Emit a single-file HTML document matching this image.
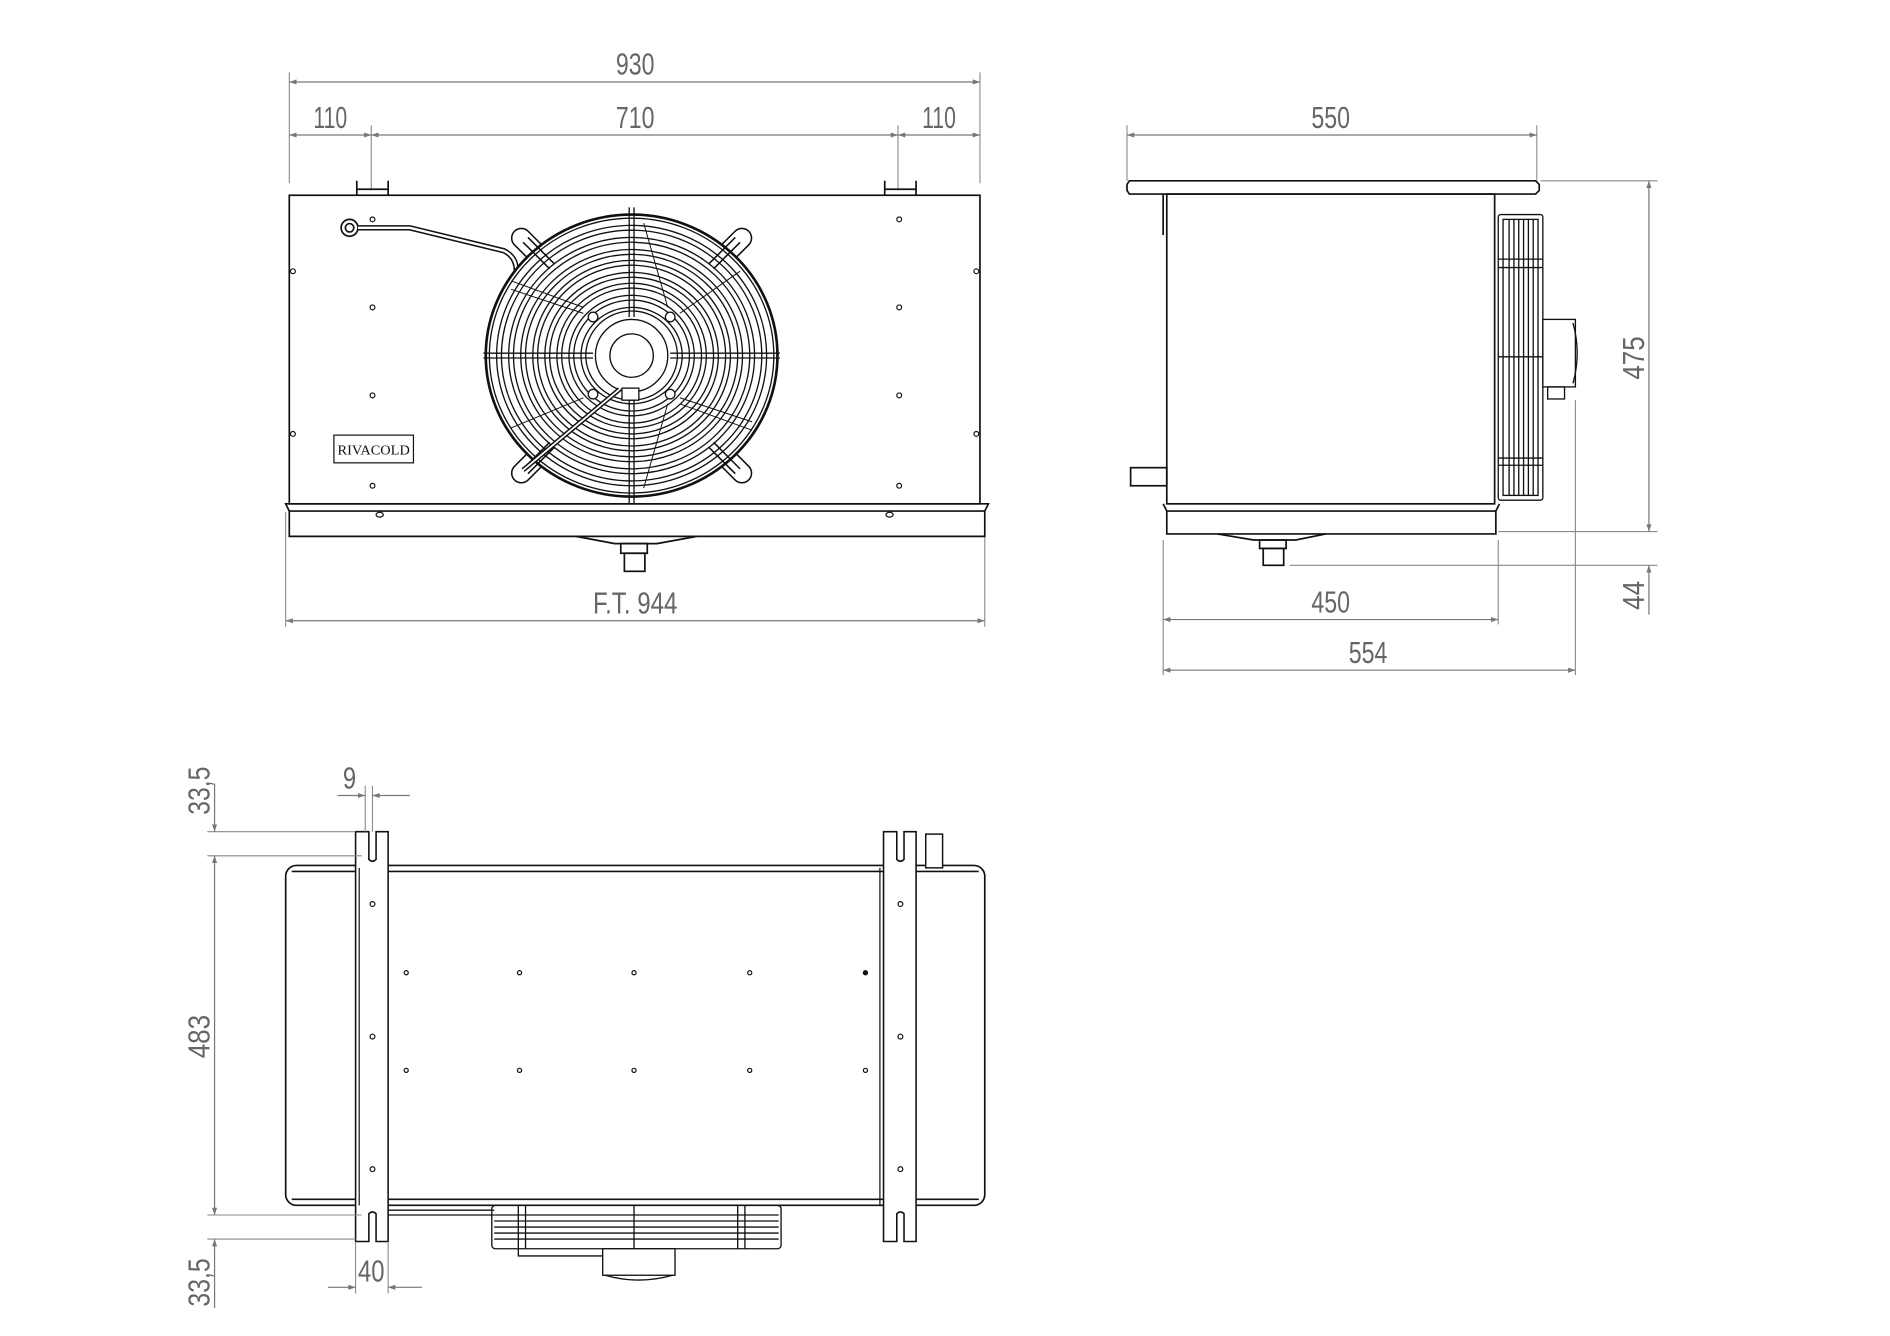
<!DOCTYPE html>
<html><head><meta charset="utf-8"><style>html,body{margin:0;padding:0;background:#fff}svg{display:block}</style></head>
<body>
<svg width="1890" height="1336" viewBox="0 0 1568 1108.4" xmlns="http://www.w3.org/2000/svg">
<defs>
<marker id="a" viewBox="0 0 10 10" refX="10" refY="5" markerWidth="18" markerHeight="6" markerUnits="userSpaceOnUse" orient="auto-start-reverse"><path d="M0,1.5 L10,5 L0,8.5 Z" fill="#777"/></marker>
</defs>
<style>
.d{stroke:#777;stroke-width:1;fill:none}
.e{stroke:#888;stroke-width:0.9;fill:none}
.k{stroke:#111;stroke-width:1.4;fill:none}
.t{font-family:"Liberation Sans Narrow","Liberation Sans",sans-serif;font-size:25px;fill:#666;text-anchor:middle}
</style>

<!-- ===== FRONT VIEW dims ===== -->
<line class="e" x1="240" y1="60" x2="240" y2="152"/>
<line class="e" x1="813" y1="60" x2="813" y2="152"/>
<line class="d" x1="240" y1="68" x2="813" y2="68" marker-start="url(#a)" marker-end="url(#a)"/>
<text class="t" x="527" y="62" textLength="32" lengthAdjust="spacingAndGlyphs">930</text>
<line class="e" x1="308" y1="104" x2="308" y2="158"/>
<line class="e" x1="745" y1="104" x2="745" y2="158"/>
<line class="d" x1="240" y1="112" x2="308" y2="112" marker-start="url(#a)" marker-end="url(#a)"/>
<line class="d" x1="308" y1="112" x2="745" y2="112" marker-start="url(#a)" marker-end="url(#a)"/>
<line class="d" x1="745" y1="112" x2="813" y2="112" marker-start="url(#a)" marker-end="url(#a)"/>
<text class="t" x="274" y="106" textLength="28" lengthAdjust="spacingAndGlyphs">110</text>
<text class="t" x="527" y="106" textLength="32" lengthAdjust="spacingAndGlyphs">710</text>
<text class="t" x="779" y="106" textLength="28" lengthAdjust="spacingAndGlyphs">110</text>
<line class="e" x1="237" y1="425" x2="237" y2="520"/>
<line class="e" x1="817" y1="425" x2="817" y2="520"/>
<line class="d" x1="237" y1="515" x2="817" y2="515" marker-start="url(#a)" marker-end="url(#a)"/>
<text class="t" x="527" y="509" textLength="70" lengthAdjust="spacingAndGlyphs">F.T. 944</text>

<!-- front body -->
<path class="k" d="M296,162 V150 M322,162 V150 M296,157 H322 M734,162 V150 M760,162 V150 M734,157 H760"/>
<rect class="k" x="240" y="162" width="573" height="256"/>
<path class="k" d="M237,418 L240,424 V445 H817 V424 L820,418 Z"/>
<line class="k" x1="240" y1="424" x2="817" y2="424"/>
<path class="k" d="M478,445 L510,451 H545 L578,445"/>
<rect class="k" x="515" y="451" width="22" height="8"/>
<rect class="k" x="518" y="459" width="17" height="15"/>
<g fill="#fff" stroke="#111" stroke-width="1">
<circle cx="309" cy="182" r="2"/><circle cx="309" cy="255" r="2"/><circle cx="309" cy="328" r="2"/><circle cx="309" cy="403" r="2"/>
<circle cx="746" cy="182" r="2"/><circle cx="746" cy="255" r="2"/><circle cx="746" cy="328" r="2"/><circle cx="746" cy="403" r="2"/>
<circle cx="243" cy="225" r="2"/><circle cx="243" cy="360" r="2"/><circle cx="810" cy="225" r="2"/><circle cx="810" cy="360" r="2"/>
<ellipse cx="315" cy="427" rx="3" ry="2"/><ellipse cx="738" cy="427" rx="3" ry="2"/>
</g>
<rect x="277" y="361" width="66" height="23" fill="#fff" stroke="#111" stroke-width="1"/>
<text x="310" y="377" font-family="Liberation Serif,serif" font-size="11" text-anchor="middle" fill="#111" textLength="60" lengthAdjust="spacingAndGlyphs">RIVACOLD</text>
<!-- pipe -->
<circle cx="290" cy="189" r="7" class="k"/><circle cx="290" cy="189" r="3.5" class="k"/>
<path d="M297,189 H340 L418,208 Q430,214 428,228" stroke="#111" stroke-width="4.5" fill="none"/>
<path d="M297,189 H340 L418,208 Q430,214 428,228" stroke="#fff" stroke-width="2" fill="none"/>
<!-- fan -->
<g stroke="#111" fill="none" stroke-width="1.1">
<g transform="translate(524,295)">
<g fill="#fff" stroke-width="1.3">
<rect x="-8" y="-20" width="16" height="36" rx="8" transform="translate(-83,-89) rotate(-45)"/>
<rect x="-8" y="-20" width="16" height="36" rx="8" transform="translate(83,-89) rotate(45)"/>
<rect x="-8" y="-16" width="16" height="36" rx="8" transform="translate(-83,89) rotate(45)"/>
<rect x="-8" y="-16" width="16" height="36" rx="8" transform="translate(83,89) rotate(-45)"/>
</g>
<ellipse rx="121" ry="117" stroke-width="2.2" fill="#fff"/>
<ellipse rx="118" ry="114"/>
<ellipse rx="112" ry="108"/><ellipse rx="108" ry="104"/><ellipse rx="102" ry="98"/><ellipse rx="98" ry="94"/><ellipse rx="92" ry="88"/><ellipse rx="88" ry="84"/><ellipse rx="82" ry="79"/><ellipse rx="78" ry="75"/>
<ellipse rx="72" ry="69"/><ellipse rx="68" ry="65"/><ellipse rx="62" ry="60"/><ellipse rx="58" ry="56"/><ellipse rx="52" ry="50"/><ellipse rx="48" ry="46"/><ellipse rx="42" ry="40"/><ellipse rx="38" ry="37"/>
<path d="M-90,-94 L-68,-72 M-86,-98 L-64,-76 M90,-94 L68,-72 M86,-98 L64,-76 M-90,94 L-68,72 M-86,98 L-64,76 M90,94 L68,72 M86,98 L64,76" stroke-width="1.3"/>
<circle r="30" fill="#fff"/><circle r="18"/>
<path d="M-2,-123 V-32 M2,-123 V-32 M-2,32 V123 M2,32 V123 M-123,-2 H-32 M-123,2 H-32 M32,-2 H123 M32,2 H123"/>
<path d="M-100,-55 L-40,-35 M-100,-62 L-40,-40 M100,55 L40,35 M100,62 L40,40 M-100,60 L-40,35 M10,-110 L30,-40 M10,110 L30,40 M90,-70 L40,-35" stroke-width="0.8"/>
<circle cx="-32" cy="-32" r="4" fill="#fff"/><circle cx="32" cy="-32" r="4" fill="#fff"/><circle cx="-32" cy="32" r="4" fill="#fff"/><circle cx="32" cy="32" r="4" fill="#fff"/>
<rect x="-8" y="27" width="14" height="10" fill="#fff"/>
<path d="M-10,28 L-90,95" stroke-width="4"/><path d="M-10,28 L-90,95" stroke="#fff" stroke-width="1.5"/>
</g>
</g>

<!-- ===== SIDE VIEW ===== -->
<line class="e" x1="935" y1="104" x2="935" y2="150"/>
<line class="e" x1="1275" y1="104" x2="1275" y2="150"/>
<line class="d" x1="935" y1="112" x2="1275" y2="112" marker-start="url(#a)" marker-end="url(#a)"/>
<text class="t" x="1104" y="106" textLength="32" lengthAdjust="spacingAndGlyphs">550</text>
<path class="k" d="M937,150 H1274 L1277,153 V158 L1274,161 H937 L935,158 V153 Z"/>
<rect class="k" x="968" y="161" width="272" height="257"/>
<line class="k" x1="965" y1="161" x2="965" y2="195"/>
<path class="k" d="M965,418 L968,424 V443 H1241 V424 L1244,418"/>
<line class="k" x1="968" y1="424" x2="1241" y2="424"/>
<rect class="k" x="938" y="388" width="30" height="15"/>
<path class="k" d="M1010,443 L1040,448 H1075 L1100,443"/>
<rect class="k" x="1045" y="448" width="22" height="7"/>
<rect class="k" x="1048" y="455" width="17" height="14"/>
<!-- side fan guard -->
<g stroke="#111" fill="none" stroke-width="1.1">
<rect x="1243" y="178" width="37" height="237" rx="2"/>
<rect x="1247" y="182" width="29" height="229"/>
<path d="M1252,182 V411 M1256,182 V411 M1260,182 V411 M1264,182 V411 M1268,182 V411 M1272,182 V411"/>
<path d="M1243,215 H1280 M1243,222 H1280 M1243,296 H1280 M1243,380 H1280 M1243,386 H1280"/>
<rect x="1280" y="265" width="27" height="56" fill="#fff"/>
<path d="M1305,268 Q1312,293 1305,318"/>
<rect x="1284" y="321" width="14" height="10"/>
</g>
<!-- side dims -->
<line class="e" x1="1278" y1="150" x2="1375" y2="150"/>
<line class="e" x1="1243" y1="441" x2="1375" y2="441"/>
<line class="e" x1="1070" y1="469" x2="1375" y2="469"/>
<line class="d" x1="1368" y1="150" x2="1368" y2="441" marker-start="url(#a)" marker-end="url(#a)"/>
<line class="d" x1="1368" y1="510" x2="1368" y2="469" marker-end="url(#a)"/>
<text class="t" transform="translate(1364,297) rotate(-90)" textLength="36" lengthAdjust="spacingAndGlyphs">475</text>
<text class="t" transform="translate(1364,494) rotate(-90)" textLength="24" lengthAdjust="spacingAndGlyphs">44</text>
<line class="e" x1="965" y1="448" x2="965" y2="560"/>
<line class="e" x1="1243" y1="448" x2="1243" y2="518"/>
<line class="e" x1="1307" y1="332" x2="1307" y2="560"/>
<line class="d" x1="965" y1="514" x2="1243" y2="514" marker-start="url(#a)" marker-end="url(#a)"/>
<line class="d" x1="965" y1="556" x2="1307" y2="556" marker-start="url(#a)" marker-end="url(#a)"/>
<text class="t" x="1104" y="508" textLength="32" lengthAdjust="spacingAndGlyphs">450</text>
<text class="t" x="1135" y="550" textLength="32" lengthAdjust="spacingAndGlyphs">554</text>

<!-- ===== BOTTOM VIEW ===== -->
<rect x="237" y="718" width="580" height="282" rx="9" fill="none" stroke="#111" stroke-width="1.4"/>
<line class="k" x1="242" y1="723" x2="812" y2="723"/>
<line class="k" x1="242" y1="995" x2="812" y2="995"/>
<rect x="768" y="692" width="14" height="28" fill="#fff" stroke="#111" stroke-width="1.2"/>
<g stroke="#111" stroke-width="1.3" fill="#fff">
<path d="M295,690 H306 V713 Q309,716 312,713 V690 H322 V1030 H312 V1007 Q309,1004 306,1007 V1030 H295 Z"/>
<path d="M733,690 H744 V713 Q747,716 750,713 V690 H760 V1030 H750 V1007 Q747,1004 744,1007 V1030 H733 Z"/>
</g>
<g stroke="#111" stroke-width="1" fill="none">
<line x1="298" y1="720" x2="298" y2="1000"/><line x1="730" y1="720" x2="730" y2="1000"/>
<circle cx="309" cy="750" r="2"/><circle cx="309" cy="860" r="2"/><circle cx="309" cy="970" r="2"/>
<circle cx="747" cy="750" r="2"/><circle cx="747" cy="860" r="2"/><circle cx="747" cy="970" r="2"/>
<circle cx="337" cy="807" r="1.7"/><circle cx="431" cy="807" r="1.7"/><circle cx="526" cy="807" r="1.7"/><circle cx="622" cy="807" r="1.7"/><circle cx="718" cy="807" r="1.7" fill="#111"/>
<circle cx="337" cy="888" r="1.7"/><circle cx="431" cy="888" r="1.7"/><circle cx="526" cy="888" r="1.7"/><circle cx="622" cy="888" r="1.7"/><circle cx="718" cy="888" r="1.7"/>
</g>
<!-- bottom fan -->
<g stroke="#111" fill="none" stroke-width="1.1">
<path d="M322,1004 H410 M322,1008 H410"/>
<rect x="408" y="1000" width="240" height="36" rx="3"/>
<path d="M410,1008 H646 M410,1013 H646 M410,1018 H646 M410,1023 H646 M410,1028 H646"/>
<path d="M430,1000 V1036 M526,1000 V1036 M612,1000 V1036 M436,1000 V1036 M618,1000 V1036"/>
<path d="M430,1036 V1042 H500"/>
<rect x="500" y="1036" width="60" height="22" fill="#fff"/>
<path d="M502,1058 Q530,1066 558,1058"/>
</g>
<!-- bottom dims -->
<line class="e" x1="172" y1="690" x2="295" y2="690"/>
<line class="e" x1="172" y1="710" x2="300" y2="710"/>
<line class="e" x1="172" y1="1008" x2="300" y2="1008"/>
<line class="e" x1="172" y1="1028" x2="295" y2="1028"/>
<line class="d" x1="178" y1="650" x2="178" y2="690" marker-end="url(#a)"/>
<line class="d" x1="178" y1="710" x2="178" y2="1008" marker-start="url(#a)" marker-end="url(#a)"/>
<line class="d" x1="178" y1="1085" x2="178" y2="1028" marker-end="url(#a)"/>
<text class="t" transform="translate(174,656) rotate(-90)" textLength="40" lengthAdjust="spacingAndGlyphs">33,5</text>
<text class="t" transform="translate(174,860) rotate(-90)" textLength="36" lengthAdjust="spacingAndGlyphs">483</text>
<text class="t" transform="translate(174,1064) rotate(-90)" textLength="40" lengthAdjust="spacingAndGlyphs">33,5</text>
<line class="e" x1="303" y1="652" x2="303" y2="690"/>
<line class="e" x1="309" y1="652" x2="309" y2="690"/>
<line class="d" x1="280" y1="660" x2="303" y2="660" marker-end="url(#a)"/>
<line class="d" x1="340" y1="660" x2="309" y2="660" marker-end="url(#a)"/>
<text class="t" x="290" y="654" textLength="11" lengthAdjust="spacingAndGlyphs">9</text>
<line class="e" x1="295" y1="1030" x2="295" y2="1073"/>
<line class="e" x1="322" y1="1030" x2="322" y2="1073"/>
<line class="d" x1="272" y1="1068" x2="295" y2="1068" marker-end="url(#a)"/>
<line class="d" x1="350" y1="1068" x2="322" y2="1068" marker-end="url(#a)"/>
<text class="t" x="308" y="1063" textLength="22" lengthAdjust="spacingAndGlyphs">40</text>
</svg>
</body></html>
